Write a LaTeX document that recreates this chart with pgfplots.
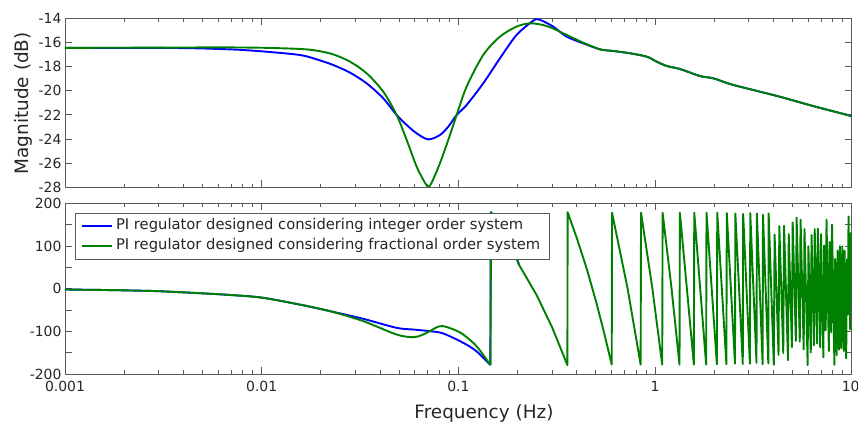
\documentclass[border=0pt]{standalone}
\usepackage{pgfplots}
\pgfplotsset{compat=1.18}
\usepackage{pgfplotstable}
\usepackage{fontspec}
\setmainfont{DejaVu Sans}

\definecolor{cblue}{RGB}{0,0,255}
\definecolor{cgreen}{RGB}{0,128,0}
\definecolor{frame}{RGB}{90,90,90}
\definecolor{txt}{RGB}{38,38,38}

% magnitude (dB)
\pgfplotstableread{
f m
0.001 -16.45
0.002 -16.45
0.0035 -16.46
0.005 -16.50
0.0075 -16.60
0.0106 -16.77
0.01566 -17.04
0.01904 -17.40
0.02312 -17.87
0.02811 -18.50
0.03419 -19.39
0.04151 -20.63
0.04856 -22.01
0.05461 -22.84
0.06138 -23.53
0.07031 -24.03
0.08061 -23.67
0.08886 -22.98
0.09804 -22.01
0.1102 -21.18
0.1338 -19.39
0.1627 -17.32
0.1978 -15.38
0.2403 -14.20
0.2548 -14.09
0.2702 -14.25
0.3038 -14.69
0.3553 -15.52
0.4315 -16.07
0.5246 -16.57
0.614 -16.71
0.747 -16.90
0.908 -17.18
1.019 -17.59
1.146 -17.95
1.339 -18.20
1.69 -18.78
1.977 -18.97
2.40 -19.44
2.92 -19.80
4.32 -20.50
6.37 -21.27
10 -22.10
}\magblue

\pgfplotstableread{
f m
0.001 -16.45
0.003 -16.43
0.006 -16.41
0.01 -16.44
0.01566 -16.54
0.01904 -16.68
0.02312 -16.99
0.02811 -17.59
0.03419 -18.56
0.04151 -20.08
0.04856 -22.01
0.05461 -24.08
0.06138 -26.29
0.06763 -27.62
0.07031 -27.95
0.07314 -27.62
0.08061 -26.01
0.08886 -24.08
0.09804 -22.01
0.1102 -19.66
0.1338 -17.04
0.1627 -15.52
0.1978 -14.69
0.2312 -14.42
0.2702 -14.56
0.3038 -14.85
0.3553 -15.38
0.4315 -16.02
0.5246 -16.57
0.614 -16.71
0.747 -16.90
0.908 -17.18
1.019 -17.59
1.146 -17.95
1.339 -18.20
1.69 -18.78
1.977 -18.97
2.40 -19.44
2.92 -19.80
4.32 -20.50
6.37 -21.27
10 -22.10
}\maggreen

% phase (deg), low frequencies
\pgfplotstableread{
f p
0.001 -2
0.0015 -3
0.002 -4
0.003 -6
0.005 -11
0.007 -15
0.01 -21
0.0155 -37
0.0222 -52.6
0.0328 -70.6
0.0485 -91.8
0.059 -95.8
0.0717 -99.7
0.0838 -105
0.1059 -127
0.1239 -147
0.1455 -179
}\phblue

\pgfplotstableread{
f p
0.001 -2
0.0015 -3
0.002 -4
0.003 -6
0.005 -11
0.007 -15
0.01 -21
0.0155 -37
0.0222 -52.6
0.0328 -76
0.0485 -107.5
0.059 -113.8
0.065 -109
0.0717 -99.7
0.078 -90
0.0838 -87.9
0.095 -96
0.1059 -107.5
0.1239 -135
0.1455 -179
}\phgreen

% blue phase just after the first wrap (the rest lies under the green one)
\pgfplotstableread{
f p
0.1455 -179
0.1462 179
0.16 155
0.18 118
0.204 55
}\phbluewrap

% phase (deg), wrapped part
\pgfplotstableread{
f p
0.1455 -179
0.1468 179
0.16 155
0.18 118
0.204 55
0.25 -15
0.3 -91
0.3585 -179
0.3595 179
0.4 119
0.45 46
0.5 -28
0.55 -102
0.6025 -178
0.6045 178
0.725 1
0.845 -178
0.849 178
0.969 1
1.088 -178
1.093 178
1.213 1
1.332 -178
1.338 178
1.576 -178
1.583 178
1.820 -178
1.827 178
2.063 -177
2.072 178
2.306 -177
2.317 177
2.550 -176
2.561 176
2.794 -177
2.806 175
3.037 -176
3.050 177
3.281 -174
3.295 176
3.525 -177
3.540 173
3.768 -175
3.783 176
3.9811 -124.1
4.0179 -178.5
4.0551 126.7
4.0926 71.4
4.1305 15.4
4.1687 -40.9
4.2073 -97.9
4.2462 -155.3
4.2855 146.7
4.3252 88.2
4.3652 29.2
4.4056 -30.5
4.4463 -90.5
4.4875 -151.3
4.5290 147.5
4.5709 85.6
4.6132 23.3
4.6559 -39.7
4.6990 -103.4
4.7425 -167.5
4.7863 127.8
4.8306 62.5
4.8753 -3.5
4.9204 -70.0
4.9659 -137.1
5.0119 155.0
5.0583 86.5
5.1051 17.5
5.1523 -52.2
5.2000 -122.5
5.2481 166.5
5.2967 94.8
5.3457 22.5
5.3952 -50.5
5.4451 -124.2
5.4954 161.6
5.5462 86.7
5.5975 11.0
5.6493 -65.4
5.7016 -142.6
5.7544 139.5
5.8076 61.0
5.8613 -18.3
5.9155 -98.2
5.9702 -178.9
6.0256 99.4
6.0814 17.0
6.1377 -66.1
6.1945 -149.8
6.2518 125.6
6.3096 40.3
6.3680 -45.8
6.4269 -132.7
6.4864 139.5
6.5464 50.9
6.6069 -38.3
6.6680 -128.4
6.7297 140.5
6.7920 48.6
6.8548 -44.1
6.9183 -137.8
6.9823 127.8
7.0469 32.5
7.1121 -63.7
7.1779 -160.8
7.2444 101.1
7.3114 2.3
7.3791 -97.6
7.4474 161.6
7.5163 59.9
7.5858 -42.6
7.6560 -146.2
7.7268 109.4
7.7983 3.9
7.8705 -102.7
7.9433 149.9
8.0168 41.5
8.0910 -68.0
8.1659 -178.5
8.2415 69.9
8.3176 -42.3
8.3946 -155.9
8.4723 89.4
8.5507 -26.2
8.6298 -143.0
8.7096 99.3
8.7902 -19.6
8.8715 -139.6
8.9536 99.3
9.0364 -22.9
9.1201 -146.3
9.2045 89.1
9.2897 -36.6
9.3757 -163.5
9.4625 68.5
9.5499 -60.5
9.6383 169.1
9.7275 37.5
9.8175 -95.3
9.9083 130.7
10.0 -4.6
}\phwrap

\pgfplotsset{
  bode/.style={
    scale only axis, width=786.7bp,
    xmin=0.001, xmax=10,
    xtick={0.001,0.01,0.1,1,10},
    minor xtick={0.002,0.003,0.004,0.005,0.006,0.007,0.008,0.009,
                 0.02,0.03,0.04,0.05,0.06,0.07,0.08,0.09,
                 0.2,0.3,0.4,0.5,0.6,0.7,0.8,0.9,
                 2,3,4,5,6,7,8,9},
    tick align=inside, xtick pos=both, ytick pos=both,
    major tick length=7bp, minor tick length=3.5bp,
    axis line style={frame, line width=0.9bp},
    tick style={frame, line width=0.8bp},
    tick label style={font=\fontsize{14}{16}\selectfont, text=txt},
    xticklabel style={yshift=-4bp},
    label style={font=\fontsize{18.5}{22}\selectfont, text=txt},
  },
  curve/.style={line width=1.9bp, line join=round},
}

\begin{document}
\begin{tikzpicture}
\useasboundingbox (0,0) rectangle (858bp,424bp);

\begin{semilogxaxis}[bode,
  at={(65bp,236.7bp)}, anchor=south west, height=169bp,
  ymin=-28, ymax=-14,
  ytick={-28,-26,-24,-22,-20,-18,-16,-14},
  yticklabels={-28,-26,-24,-22,-20,-18,-16,-14},
  xticklabels={},
  ylabel={Magnitude (dB)},
  ylabel style={at={(axis description cs:-0.0534,0.497)}, anchor=center},
]
  \addplot[cblue, curve, smooth] table[x=f, y=m] {\magblue};
  \addplot[cgreen, curve, smooth] table[x=f, y=m] {\maggreen};
\end{semilogxaxis}

\begin{semilogxaxis}[bode,
  at={(65bp,50bp)}, anchor=south west, height=170.7bp,
  ymin=-200, ymax=200,
  ytick={-200,-150,-100,-50,0,50,100,150,200},
  yticklabels={-200,,-100,,0,,100,,200},
  xticklabels={0.001,0.01,0.1,1,\hspace*{-2bp}10},
  xlabel={Frequency (Hz)},
  xlabel style={at={(axis description cs:0.5326,-0.229)}, anchor=center},
  legend style={at={(rel axis cs:0.0127,0.943)}, anchor=north west,
    draw=frame, fill=white,
    font=\fontsize{14.8}{18}\selectfont, text=txt,
    inner xsep=6bp, inner ysep=3bp,
    nodes={inner xsep=3bp, inner ysep=2bp, text height=11.5bp, text depth=4.5bp}},
  legend cell align=left,
  legend image code/.code={
    \path (0bp,0bp) -- (30bp,0bp);
    \draw[#1] (2bp,0bp) -- (27bp,0bp);},
]
  \addplot[cblue, curve, smooth] table[x=f, y=p] {\phblue};
  \addlegendentry{PI regulator designed considering integer order system}
  \addplot[cblue, curve, forget plot] table[x=f, y=p] {\phbluewrap};
  \addplot[cgreen, curve, smooth] table[x=f, y=p] {\phgreen};
  \addlegendentry{PI regulator designed considering fractional order system}
  \addplot[cgreen, curve, forget plot] table[x=f, y=p] {\phwrap};
\end{semilogxaxis}
\end{tikzpicture}
\end{document}
